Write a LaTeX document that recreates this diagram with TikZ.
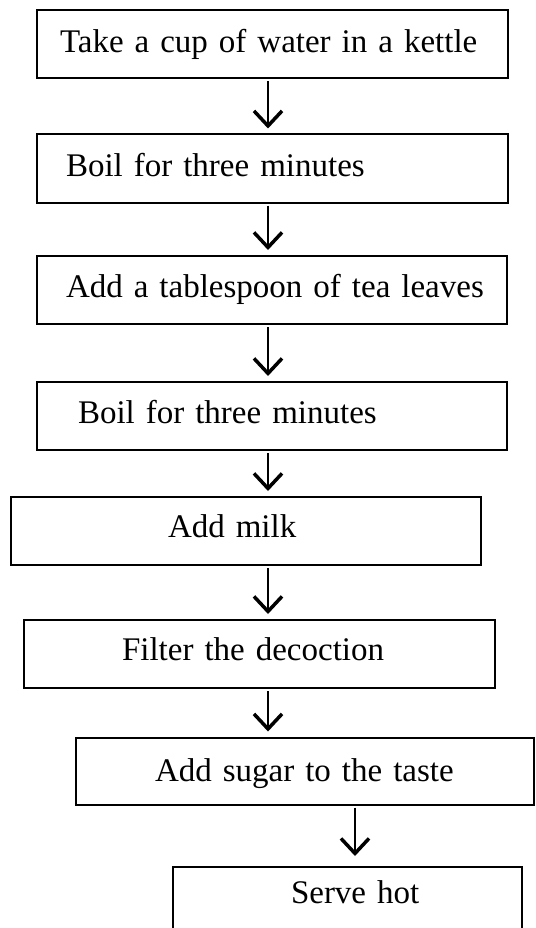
\documentclass[tikz,border=0pt]{standalone}
\usepackage{fontspec}
\setmainfont{Liberation Serif}
\usetikzlibrary{arrows.meta}
\begin{document}
\begin{tikzpicture}[x=1pt,y=-1pt,stepbox/.style={shape=rectangle,draw=black,line width=2pt,minimum height=68pt,align=left,inner xsep=0pt,inner ysep=0pt,text depth=2pt,text height=18pt,font=\fontsize{33}{40}\selectfont},indent/.style={execute at begin node={\hspace*{#1}}},flow/.style={line width=1.5pt,-{Straight Barb[length=15pt,width=28pt,line width=3.5pt]},shorten <=2pt,shorten >=5pt}]
\useasboundingbox (0,0) rectangle (535,928);

\node[stepbox,text width=471pt,indent=23pt,text height=20pt] (take) at (272.5,44) {Take a cup of water in a kettle};
\node[stepbox,text width=471pt,indent=29pt,text height=19pt] (boilA) at (272.5,168.5) {Boil for three minutes};
\draw[flow] ([xshift=-4.5pt]take.south) -- ([xshift=-4.5pt]boilA.north);

\node[stepbox,text width=470pt,indent=29pt,text height=16pt] (leaves) at (272,290) {Add a tablespoon of tea leaves};
\draw[flow] ([xshift=-4.5pt]boilA.south) -- ([xshift=-4pt]leaves.north);

\node[stepbox,text width=470pt,indent=41pt,text height=16pt] (boilB) at (272,416) {Boil for three minutes};
\draw[flow] ([xshift=-4pt]leaves.south) -- ([xshift=-4pt]boilB.north);

\node[stepbox,text width=470pt,indent=157pt,text height=14pt] (milk) at (246,531) {Add milk};
\draw[flow] ([xshift=-4pt]boilB.south) -- ([xshift=22pt]milk.north);

\node[stepbox,text width=471pt,indent=98pt,text height=14pt] (filter) at (259.5,654) {Filter the decoction};
\draw[flow] ([xshift=22pt]milk.south) -- ([xshift=8.5pt]filter.north);

\node[stepbox,text width=458pt,indent=79pt,text height=22pt,minimum height=67pt] (sugar) at (305,771) {Add sugar to the taste};
\draw[flow] ([xshift=8.5pt]filter.south) -- ([xshift=-37pt]sugar.north);

\node[stepbox,text width=349pt,indent=118pt,text height=6pt] (serve) at (347.5,901) {Serve hot};
\draw[flow,shorten >=10pt] ([xshift=50pt]sugar.south) -- ([xshift=7.5pt]serve.north);
\end{tikzpicture}
\end{document}
